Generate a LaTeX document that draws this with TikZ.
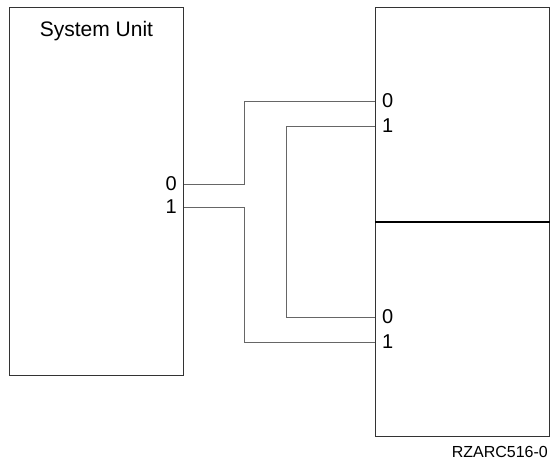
\documentclass[tikz,border=0pt]{standalone}
\usepackage{fontspec}
\setmainfont{Liberation Sans}
\usetikzlibrary{positioning}
\tikzset{
    box/.style={draw=black!80, line width=0.9pt, anchor=north west, inner sep=0pt, minimum width=174pt},
    wire/.style={draw=black!60, line width=0.8pt},
    divider/.style={draw=black, line width=1.3pt},
    port/.style={inner sep=0pt, font=\fontsize{20}{22}\selectfont},
    title/.style={inner sep=0pt, font=\fontsize{21}{24}\selectfont}
}

\begin{document}
\begin{tikzpicture}[x=1pt,y=-1pt]
    \useasboundingbox (0,0) rectangle (550,461);
    % boxes
    \node[box, minimum height=368pt] (sys) at (9,7) {};
    \node[box, minimum height=214pt] (top) at (375,7) {};
    \node[box, minimum height=215pt] (bot) at (375,221) {};
    \draw[divider] (top.south west) -- (top.south east);
    \node[title, below=14pt of sys.north] (sysname) {System Unit};

    % ports
    \coordinate (s0) at (sys.east |- 0,184);
    \coordinate (s1) at (sys.east |- 0,207);
    \coordinate (t0) at (top.west |- 0,101);
    \coordinate (t1) at (top.west |- 0,126);
    \coordinate (b0) at (bot.west |- 0,317);
    \coordinate (b1) at (bot.west |- 0,342);
    \node[port, left=7pt of s0] (ls0) {0};
    \node[port, left=7pt of s1] (ls1) {1};
    \node[port, right=7pt of t0] (lt0) {0};
    \node[port, right=7pt of t1] (lt1) {1};
    \node[port, right=7pt of b0] (lb0) {0};
    \node[port, right=7pt of b1] (lb1) {1};

    % cables
    \draw[wire] (s0) -- ++(60,0) |- (t0);
    \draw[wire] (s1) -- ++(60,0) |- (b1);
    \draw[wire] (t1) -- ++(-89,0) |- (b0);

    \node[inner sep=0pt, anchor=north east, font=\fontsize{16}{18}\selectfont] (fig) at (548,446) {RZARC516-0};
\end{tikzpicture}
\end{document}
